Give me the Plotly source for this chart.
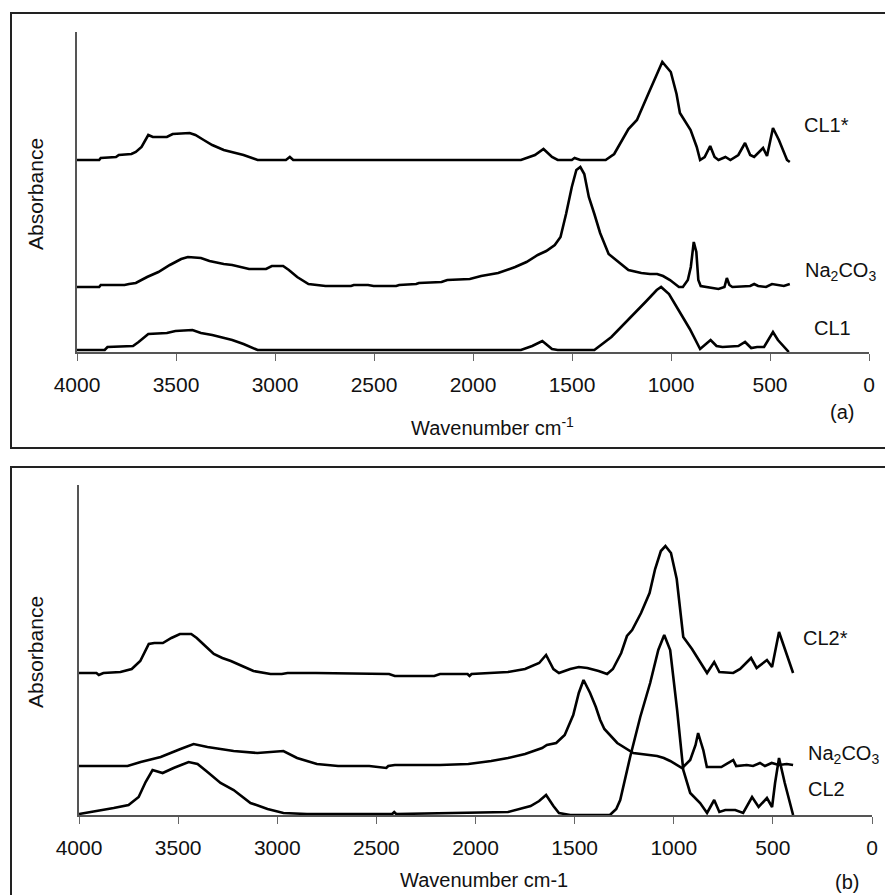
import plotly.graph_objects as go

# ---------------- Panel (a) ----------------
cl1s_wn = [4000, 3888, 3880, 3803, 3789, 3725, 3703, 3674, 3640, 3617, 3546, 3517, 3431, 3402, 3360, 3317, 3259, 3216, 3159, 3088,
           2945, 2925, 2908, 1758, 1687, 1644, 1601, 1572, 1501, 1487, 1458, 1330, 1287, 1215, 1172, 1115, 1072, 1044, 1001, 972,
           955, 901, 870, 853, 830, 802, 780, 760, 725, 700, 660, 626, 600, 580, 535, 515, 485, 455, 414, 400]
cl1s_ab = [192, 192, 194, 195, 197, 198, 200, 205, 217, 215, 215, 218, 219, 217, 212, 207, 202, 200, 197, 192,
           192, 195, 192, 192, 197, 203, 195, 192, 192, 194, 192, 192, 198, 223, 232, 258, 278, 290, 280, 258,
           239, 222, 205, 192, 195, 206, 195, 192, 195, 192, 197, 209, 197, 195, 204, 196, 224, 212, 192, 190]

na_a_wn = [4000, 3888, 3880, 3760, 3737, 3703, 3646, 3589, 3531, 3474, 3440, 3374, 3331, 3259, 3216, 3131, 3045, 3016, 2959, 2930,
           2888, 2831, 2745, 2616, 2602, 2530, 2502, 2388, 2373, 2287, 2273, 2159, 2130, 2016, 1959, 1873, 1787, 1730, 1673, 1630,
           1587, 1558, 1530, 1501, 1478, 1458, 1438, 1415, 1387, 1358, 1315, 1257, 1215, 1150, 1106, 1070, 1040, 1005, 960, 940,
           915, 900, 885, 872, 862, 850, 800, 760, 730, 718, 705, 690, 600, 580, 560, 520, 490, 460, 430, 400]
na_a_ab = [65, 65, 67, 67, 68, 69, 75, 80, 87, 93, 95, 94, 91, 88, 87, 83, 83, 86, 86, 82,
           75, 68, 66, 66, 67, 67, 66, 66, 67, 68, 69, 70, 72, 73, 76, 79, 85, 90, 97, 101,
           107, 115, 138, 165, 182, 185, 178, 155, 138, 119, 98, 89, 82, 79, 78, 78, 76, 72, 65, 65,
           72, 85, 110, 100, 72, 66, 64, 63, 65, 74, 67, 65, 66, 68, 66, 65, 68, 67, 66, 68]

cl1_wn = [4000, 3860, 3846, 3717, 3689, 3640, 3546, 3503, 3417, 3374, 3317, 3216, 3159, 3088, 1758, 1701, 1650, 1601, 1572, 1387,
          1301, 1215, 1129, 1072, 1050, 1010, 965, 905, 853, 800, 770, 740, 660, 626, 595, 565, 530, 485, 460, 414, 405]
cl1_ab = [2, 2, 5, 6, 10, 18, 19, 21, 22, 19, 17, 12, 8, 2, 2, 6, 11, 3, 2, 2,
          15, 32, 50, 62, 65, 58, 43, 23, 3, 12, 6, 5, 6, 10, 4, 5, 5, 20, 12, 2, 0]

# ---------------- Panel (b) ----------------
cl2s_wn = [4000, 3912, 3900, 3877, 3791, 3734, 3691, 3648, 3620, 3577, 3534, 3491, 3434, 3406, 3363, 3320, 3277, 3234, 3177, 3120,
           3034, 2977, 2948, 2805, 2436, 2407, 2208, 2179, 2040, 2030, 2020, 1836, 1750, 1679, 1644, 1607, 1579, 1522, 1479, 1436,
           1379, 1336, 1307, 1265, 1236, 1210, 1165, 1122, 1094, 1065, 1042, 1014, 985, 960, 952, 908, 865, 832, 796, 770,
           700, 665, 610, 582, 530, 504, 469, 440, 398]
cl2s_ab = [142, 142, 140, 142, 143, 146, 154, 171, 172, 172, 177, 181, 181, 177, 169, 161, 157, 154, 149, 144,
           141, 141, 142, 142, 141, 139, 139, 141, 141, 139, 141, 143, 146, 152, 160, 146, 142, 146, 148, 147,
           144, 141, 146, 162, 179, 185, 202, 222, 246, 264, 269, 262, 236, 195, 178, 166, 152, 142, 153, 143,
           142, 146, 157, 147, 155, 148, 183, 166, 142]

na_b_wn = [4000, 3755, 3689, 3588, 3488, 3422, 3352, 3220, 3100, 3019, 2969, 2900, 2800, 2693, 2536, 2450, 2440, 2407, 2179, 2036,
           1921, 1836, 1750, 1664, 1640, 1593, 1550, 1507, 1479, 1455, 1422, 1393, 1371, 1350, 1307, 1285, 1204, 1084, 1050, 1018,
           958, 917, 890, 877, 862, 851, 833, 760, 700, 685, 632, 600, 565, 540, 506, 470, 430, 398]
na_b_ab = [49, 49, 53, 58, 66, 71, 68, 64, 62, 63, 64, 57, 51, 49, 49, 47, 49, 50, 50, 51,
           54, 57, 61, 67, 70, 72, 80, 100, 122, 135, 122, 108, 95, 86, 76, 72, 62, 59, 57, 54,
           47, 55, 70, 82, 72, 65, 48, 48, 55, 49, 50, 49, 52, 49, 52, 50, 51, 50]

cl2_wn = [4000, 3906, 3825, 3750, 3699, 3664, 3629, 3578, 3523, 3447, 3402, 3352, 3286, 3220, 3135, 3049, 2969, 2850, 2420, 2410,
          2400, 1836, 1722, 1679, 1644, 1607, 1579, 1522, 1322, 1290, 1270, 1220, 1169, 1119, 1078, 1048, 1018, 983, 952, 917,
          867, 832, 796, 770, 740, 690, 650, 605, 572, 530, 504, 489, 469, 440, 398]
cl2_ab = [1, 4, 7, 10, 18, 33, 45, 42, 47, 53, 51, 43, 32, 25, 12, 6, 2, 1, 1, 3,
          1, 3, 9, 14, 20, 9, 2, 0, 0, 6, 15, 58, 98, 132, 165, 180, 165, 105, 45, 22,
          12, 2, 15, 3, 5, 5, 2, 18, 8, 17, 8, 32, 57, 32, 0]

x_ticks = [4000, 3500, 3000, 2500, 2000, 1500, 1000, 500, 0]

W, H = 885, 895
FONT = "Liberation Sans, Arial, sans-serif"


def px(x):
    return x / W


def py(y):
    return 1 - y / H


line_style = dict(color="#000000", width=2.6)
fig = go.Figure()
for wn, ab in [(cl1s_wn, cl1s_ab), (na_a_wn, na_a_ab), (cl1_wn, cl1_ab)]:
    fig.add_trace(go.Scatter(x=wn, y=ab, mode="lines", line=line_style, xaxis="x", yaxis="y",
                             showlegend=False, hoverinfo="skip"))
for wn, ab in [(cl2s_wn, cl2s_ab), (na_b_wn, na_b_ab), (cl2_wn, cl2_ab)]:
    fig.add_trace(go.Scatter(x=wn, y=ab, mode="lines", line=line_style, xaxis="x2", yaxis="y2",
                             showlegend=False, hoverinfo="skip"))

xax = dict(range=[4000, 0], tickvals=x_ticks, ticktext=[str(t) for t in x_ticks],
           ticks="outside", ticklen=7, tickwidth=1, tickcolor="#666666", ticklabelstandoff=6,
           showline=True, linecolor="#555555", linewidth=1.5, showgrid=False, zeroline=False,
           tickfont=dict(family=FONT, size=21, color="#111111"), fixedrange=True)
yax = dict(showticklabels=False, ticks="", showline=True, linecolor="#555555", linewidth=1.5,
           showgrid=False, zeroline=False, fixedrange=True)

fig.update_layout(
    width=W, height=H, margin=dict(l=0, r=0, t=0, b=0, autoexpand=False),
    paper_bgcolor="white", plot_bgcolor="white",
    xaxis=dict(xax, domain=[px(77), px(869)], anchor="y"),
    yaxis=dict(yax, domain=[py(352), py(32)], range=[0, 320], anchor="x"),
    xaxis2=dict(xax, domain=[px(79), px(872)], anchor="y2"),
    yaxis2=dict(yax, domain=[py(815), py(485)], range=[0, 330], anchor="x2"),
    font=dict(family=FONT, size=20, color="#111111"),
)

shapes = [
    dict(type="rect", xref="paper", yref="paper", x0=px(11), x1=1.02, y0=py(448), y1=py(13),
         line=dict(color="#222222", width=2)),
    dict(type="rect", xref="paper", yref="paper", x0=px(11), x1=1.02, y0=-0.02, y1=py(467),
         line=dict(color="#222222", width=2)),
]
fig.update_layout(shapes=shapes)

ann = []


def label(text, x, y, xanchor="left", angle=0, size=20):
    ann.append(dict(text=text, x=px(x), y=py(y), xref="paper", yref="paper", showarrow=False,
                    xanchor=xanchor, yanchor="middle", textangle=angle,
                    font=dict(family=FONT, size=size, color="#111111")))


label("CL1*", 802, 125)
label("Na<sub>2</sub>CO<sub>3</sub>", 803, 271)
label("CL1", 812, 328)
label("(a)", 842, 412, "center")
label("Wavenumber cm<sup>-1</sup>", 493, 426, "center")
label("Absorbance", 35, 194, "center", -90, 21)

label("CL2*", 801, 638)
label("Na<sub>2</sub>CO<sub>3</sub>", 806, 754)
label("CL2", 806, 789)
label("(b)", 847, 882, "center")
label("Wavenumber cm-1", 484, 880, "center")
label("Absorbance", 35, 652, "center", -90, 21)

fig.update_layout(annotations=ann)
fig.write_html("out.html")
